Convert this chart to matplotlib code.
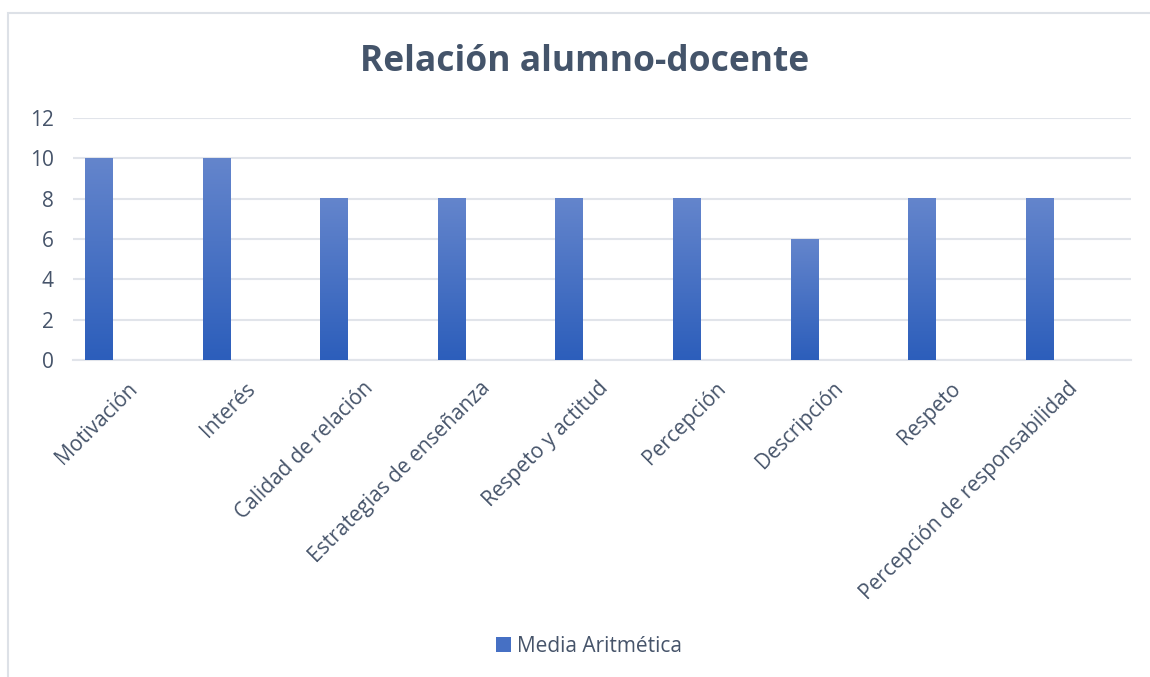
import numpy as np
import matplotlib.pyplot as plt
from matplotlib.patches import Rectangle, Patch
from matplotlib.colors import LinearSegmentedColormap

categorias = ["Motivación", "Interés", "Calidad de relación", "Estrategias de enseñanza",
              "Respeto y actitud", "Percepción", "Descripción", "Respeto",
              "Percepción de responsabilidad"]
media = [10, 10, 8, 8, 8, 8, 6, 8, 8]
serie = "Media Aritmética"
titulo = "Relación alumno-docente"
yticks = [0, 2, 4, 6, 8, 10, 12]

plt.rcParams['font.family'] = ['Open Sans', 'DejaVu Sans']
texto = '#46546A'
rejilla = '#E1E4EA'
top_col = '#6485CC'
bot_col = '#2C5EBB'

W, H = 1150, 677
fig = plt.figure(figsize=(W / 100, H / 100), dpi=100)

# borde del area del grafico
fig.patches.append(Rectangle((8 / W, -0.05), 1.2, 1 - 13 / H + 0.05, transform=fig.transFigure,
                             fill=False, edgecolor='#DDE1E7', linewidth=1.5))

ax = fig.add_axes([73 / W, 1 - 360 / H, 1058 / W, 242 / H])
x = np.arange(len(categorias))
bars = ax.bar(x - 0.277, media, width=0.238, color=bot_col, zorder=2)

# degradado vertical en cada barra
cmap = LinearSegmentedColormap.from_list('grad', [bot_col, top_col])
grad = np.linspace(0, 1, 256).reshape(-1, 1)
for b in bars:
    x0, w, h = b.get_x(), b.get_width(), b.get_height()
    ax.imshow(grad, extent=[x0, x0 + w, 0, h], origin='lower', aspect='auto',
              cmap=cmap, zorder=3)

ax.set_xlim(-0.5, len(categorias) - 0.5)
ax.set_ylim(0, 12)
ax.set_yticks(yticks)
ax.yaxis.grid(True, color=rejilla, linewidth=1.5, zorder=0)
ax.set_axisbelow(True)
for s in ['top', 'right', 'left']:
    ax.spines[s].set_visible(False)
ax.spines['bottom'].set_color(rejilla)
ax.spines['bottom'].set_linewidth(1.5)
ax.tick_params(axis='both', length=0, labelsize=15, colors=texto)
ax.tick_params(axis='y', pad=14)
ax.set_xticks(x - 0.04)
ax.set_xticklabels(categorias, rotation=45, ha='right', va='top',
                   rotation_mode='anchor')
ax.tick_params(axis='x', pad=13)

fig.text(585 / W, 1 - 62 / H, titulo, ha='center', va='center', fontsize=25.5,
         fontweight='bold', color='#44546A')

leg = fig.legend(handles=[Patch(facecolor='#4670C4', label=serie)], loc='center',
                 bbox_to_anchor=(589 / W, 1 - 646 / H), frameon=False, fontsize=15,
                 handlelength=0.7, handleheight=0.7, handletextpad=0.3, labelcolor=texto)

fig.savefig('out.png', dpi=100, facecolor='white')
